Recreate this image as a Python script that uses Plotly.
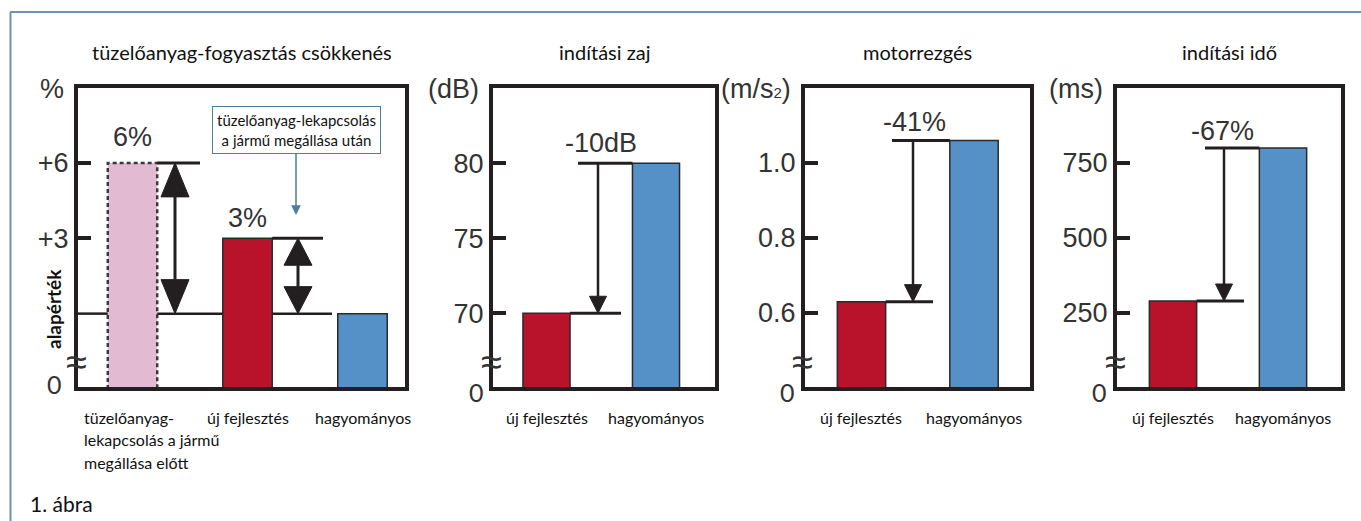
import plotly.graph_objects as go

W, H = 1361, 521

# ---------------- data ----------------
panel_titles = ["tüzelőanyag-fogyasztás csökkenés", "indítási zaj", "motorrezgés", "indítási idő"]
unit_labels = ["%", "(dB)", "(m/s<span style='font-size:15px'>2</span>)", "(ms)"]

fuel_categories = ["tüzelőanyag-<br>lekapcsolás a jármű<br>megállása előtt", "új fejlesztés", "hagyományos"]
fuel_values = [6, 3, 0]            # % above the baseline (alapérték)
fuel_value_labels = ["6%", "3%"]
fuel_ticks = [6, 3]
fuel_ticktext = ["+6", "+3"]

compare_categories = ["új fejlesztés", "hagyományos"]

noise_values = [70, 80]            # dB
noise_ticks = [80, 75, 70]
noise_ticktext = ["80", "75", "70"]
noise_change = "-10dB"

vib_values = [0.63, 1.06]          # m/s2
vib_ticks = [1.0, 0.8, 0.6]
vib_ticktext = ["1.0", "0.8", "0.6"]
vib_change = "-41%"

time_values = [290, 800]           # ms
time_ticks = [750, 500, 250]
time_ticktext = ["750", "500", "250"]
time_change = "-67%"

zero_label = "0"
baseline_label = "alapérték"
callout_text = "tüzelőanyag-lekapcsolás<br>a jármű megállása után"
caption = "1. ábra"

# ---------------- style / layout ----------------
INK = "#231f20"
TXT = "#333333"
RED = "#b8132b"
BLUE = "#5591c7"
PINK = "#e2bbd3"
FRAME = "#6f93aa"
CALLOUT = "#4d7f9c"
NUM_FONT = "Liberation Sans, Arial, sans-serif"
LBL_FONT = "Lato, sans-serif"
TOP_PX, BOT_PX = 86, 389
BAR_W = 0.43
CAT_SIZE = 16

panels = [
    dict(left=76, right=407, c0=132.5, ppu=115.0, yr=(-3.0, 9.06),
         values=fuel_values, ticks=fuel_ticks, ticktext=fuel_ticktext,
         zero=(54, 384)),
    dict(left=491, right=717, c0=546.5, ppu=109.5, yr=(64.95, 85.15),
         values=noise_values, ticks=noise_ticks, ticktext=noise_ticktext,
         change=noise_change, top_start=578, arrow_x=598, bot_end=621, label_x=601, label_shift=3,
         zero=(476, 392)),
    dict(left=803, right=1032, c0=861.5, ppu=112.5, yr=(0.397, 1.205),
         values=vib_values, ticks=vib_ticks, ticktext=vib_ticktext,
         change=vib_change, top_start=892, arrow_x=913, bot_end=933, label_x=915, label_shift=1,
         zero=(787, 392)),
    dict(left=1115, right=1343, c0=1173.0, ppu=110.0, yr=(-3.3, 1006.7),
         values=time_values, ticks=time_ticks, ticktext=time_ticktext,
         change=time_change, top_start=1205, arrow_x=1224, bot_end=1244, label_x=1222, label_shift=0,
         zero=(1099, 392)),
]
axn = ["", "2", "3", "4"]


def xd(p, px):
    return (px - p["c0"]) / p["ppu"]


def ypp(p):
    return (BOT_PX - TOP_PX) / (p["yr"][1] - p["yr"][0])


def px_x(px):
    return px / W


def px_y(py):
    return 1 - py / H


fig = go.Figure()


def add_line(i, xs, ys, width=3, dash=None, color=INK):
    fig.add_trace(go.Scatter(x=xs, y=ys, mode="lines",
                             line=dict(color=color, width=width, dash=dash),
                             hoverinfo="skip", showlegend=False, cliponaxis=False,
                             xaxis="x" + axn[i], yaxis="y" + axn[i]))


def add_tri(i, xc, y_apex, direction, hw_px, h_px):
    p = panels[i]
    hw = hw_px / p["ppu"]
    h = h_px / ypp(p)
    yb = y_apex - h if direction == "up" else y_apex + h
    fig.add_trace(go.Scatter(x=[xc - hw, xc + hw, xc, xc - hw], y=[yb, yb, y_apex, yb],
                             mode="lines", fill="toself", fillcolor=INK,
                             line=dict(color=INK, width=1), hoverinfo="skip",
                             showlegend=False, cliponaxis=False,
                             xaxis="x" + axn[i], yaxis="y" + axn[i]))
    return yb


def paper_text(px, py, text, font, xanchor="center", **kw):
    d = dict(x=px_x(px), y=px_y(py), xref="paper", yref="paper", xanchor=xanchor,
             yanchor="middle", text=text, showarrow=False, font=font)
    d.update(kw)
    return d


annotations = []
layout_axes = {}

for i, p in enumerate(panels):
    ybot, ytop = p["yr"]
    vals = p["values"]
    n = len(vals)
    xs = list(range(n))
    # ---- axes ----
    layout_axes["xaxis" + axn[i]] = dict(
        domain=[px_x(p["left"] + 2), px_x(p["right"] - 2)],
        range=[xd(p, p["left"] + 2), xd(p, p["right"] - 2)],
        anchor="y" + axn[i], showline=True, mirror=True, linewidth=4, linecolor=INK,
        showticklabels=False, showgrid=False, zeroline=False, ticks="", fixedrange=True)
    layout_axes["yaxis" + axn[i]] = dict(
        domain=[px_y(BOT_PX - 2), px_y(TOP_PX + 2)],
        range=[ybot + 2 / ypp(p), ytop - 2 / ypp(p)],
        anchor="x" + axn[i], showline=True, mirror=True, linewidth=4, linecolor=INK,
        tickvals=p["ticks"], ticktext=p["ticktext"], ticks="inside", ticklen=13,
        tickwidth=4, tickcolor=INK, tickfont=dict(family=NUM_FONT, size=27, color=TXT),
        showgrid=False, zeroline=False, fixedrange=True)

    # ---- bars ----
    if i == 0:
        colors = [PINK, RED, BLUE]
        widths = [0, 1.5, 1.5]
    else:
        colors = [RED, BLUE]
        widths = [1.5, 1.5]
    fig.add_trace(go.Bar(x=xs, y=[v - ybot for v in vals], base=ybot, width=BAR_W,
                         marker=dict(color=colors, line=dict(color="#2a2a2a", width=widths)),
                         hoverinfo="skip", showlegend=False,
                         xaxis="x" + axn[i], yaxis="y" + axn[i]))

    # ---- break mark and bottom "0" ----
    annotations.append(paper_text(p["left"], 362, "≈",
                                  dict(family="Liberation Sans, Arial", size=38, color=TXT)))
    annotations.append(paper_text(p["zero"][0], p["zero"][1], zero_label,
                                  dict(family=LBL_FONT, size=25, color=TXT)))
    # ---- title and unit ----
    annotations.append(paper_text((p["left"] + p["right"]) / 2, 52, panel_titles[i],
                                  dict(family=LBL_FONT, size=20, color="#111111")))
    annotations.append(paper_text(p["left"] - 10, 89, unit_labels[i],
                                  dict(family=NUM_FONT, size=27, color=TXT), xanchor="right"))

    if i == 0:
        hw = BAR_W / 2
        v_pre, v_new, v_conv = vals
        # dashed outline of the "before" bar
        add_line(i, [-hw, -hw, hw, hw, -hw], [ybot, v_pre, v_pre, ybot, ybot], width=2.5,
                 dash="4px,3px", color="#3a3a3a")
        # baseline (alapérték) segments
        add_line(i, [xd(p, p["left"]), -hw], [v_conv, v_conv], width=2.5)
        add_line(i, [hw, 1 - hw], [v_conv, v_conv], width=2.5)
        add_line(i, [1 + hw, xd(p, 332)], [v_conv, v_conv], width=2.5)
        # level lines
        add_line(i, [hw, xd(p, 200)], [v_pre, v_pre], width=3)
        add_line(i, [1 + hw, xd(p, 323)], [v_new, v_new], width=3)
        # double arrows
        for ax_px, vtop, hh in [(175, v_pre, 34), (298, v_new, 27)]:
            xa = xd(p, ax_px)
            y1 = add_tri(i, xa, vtop, "up", 14, hh)
            y2 = add_tri(i, xa, v_conv, "down", 14, hh)
            add_line(i, [xa, xa], [y1, y2], width=3)
        # value labels
        for k, (lab, sh) in enumerate(zip(fuel_value_labels, [9, 3])):
            annotations.append(dict(x=xs[k], y=vals[k], xref="x" + axn[i], yref="y" + axn[i],
                                    xanchor="center", yanchor="bottom", yshift=sh, text=lab,
                                    showarrow=False,
                                    font=dict(family=NUM_FONT, size=27, color=TXT)))
        # callout box with arrow
        annotations.append(dict(x=xd(p, 296), y=v_conv + (313.6 - 215) / ypp(p),
                                xref="x", yref="y", text=callout_text, showarrow=True,
                                ax=0, ay=-85, arrowhead=2, arrowsize=1.3, arrowwidth=1.5,
                                arrowcolor=CALLOUT, bordercolor=CALLOUT, borderwidth=1,
                                borderpad=4, bgcolor="white",
                                font=dict(family=LBL_FONT, size=15, color="#111111")))
        # baseline label
        annotations.append(paper_text(53, 309, "<b>" + baseline_label + "</b>",
                                      dict(family=LBL_FONT, size=19, color="#111111"),
                                      textangle=-90))
        # category labels
        first_lines = fuel_categories[0].split("<br>")
        for k, line in enumerate(first_lines):
            annotations.append(paper_text(82, 417 + 22.5 * k, line,
                                          dict(family=LBL_FONT, size=CAT_SIZE, color="#111111"),
                                          xanchor="left"))
        for k in (1, 2):
            annotations.append(dict(x=xs[k], y=px_y(417), xref="x", yref="paper",
                                    xanchor="center", yanchor="middle",
                                    text=fuel_categories[k], showarrow=False,
                                    font=dict(family=LBL_FONT, size=CAT_SIZE, color="#111111")))
    else:
        hw = BAR_W / 2
        v_new, v_conv = vals
        add_line(i, [xd(p, p["top_start"]), 1 - hw], [v_conv, v_conv], width=3)
        add_line(i, [hw, xd(p, p["bot_end"])], [v_new, v_new], width=3)
        xa = xd(p, p["arrow_x"])
        yb = add_tri(i, xa, v_new, "down", 8.5, 17)
        add_line(i, [xa, xa], [v_conv, yb], width=2.5)
        annotations.append(dict(x=xd(p, p["label_x"]), y=v_conv, xref="x" + axn[i],
                                yref="y" + axn[i], xanchor="center", yanchor="bottom",
                                yshift=p["label_shift"], text=p["change"], showarrow=False,
                                font=dict(family=NUM_FONT, size=27, color=TXT)))
        for k in range(2):
            annotations.append(dict(x=xs[k], y=px_y(417), xref="x" + axn[i], yref="paper",
                                    xanchor="center", yanchor="middle",
                                    text=compare_categories[k], showarrow=False,
                                    font=dict(family=LBL_FONT, size=CAT_SIZE, color="#111111")))

# caption
annotations.append(paper_text(28, 503, caption, dict(family=LBL_FONT, size=21, color="#111111"),
                              xanchor="left"))

shapes = [
    dict(type="line", xref="paper", yref="paper", x0=px_x(10), x1=1, y0=px_y(12), y1=px_y(12),
         line=dict(color=FRAME, width=2)),
    dict(type="line", xref="paper", yref="paper", x0=px_x(10.5), x1=px_x(10.5), y0=px_y(12), y1=0,
         line=dict(color=FRAME, width=2)),
]

fig.update_layout(width=W, height=H, margin=dict(l=0, r=0, t=0, b=0),
                  paper_bgcolor="white", plot_bgcolor="white", showlegend=False,
                  hovermode=False, bargap=0, annotations=annotations, shapes=shapes,
                  **layout_axes)

fig.write_html("out.html", config={"displayModeBar": False, "staticPlot": True},
               post_script="document.body.style.margin='0';document.body.style.padding='0';"
                           "document.body.style.overflow='hidden';")
